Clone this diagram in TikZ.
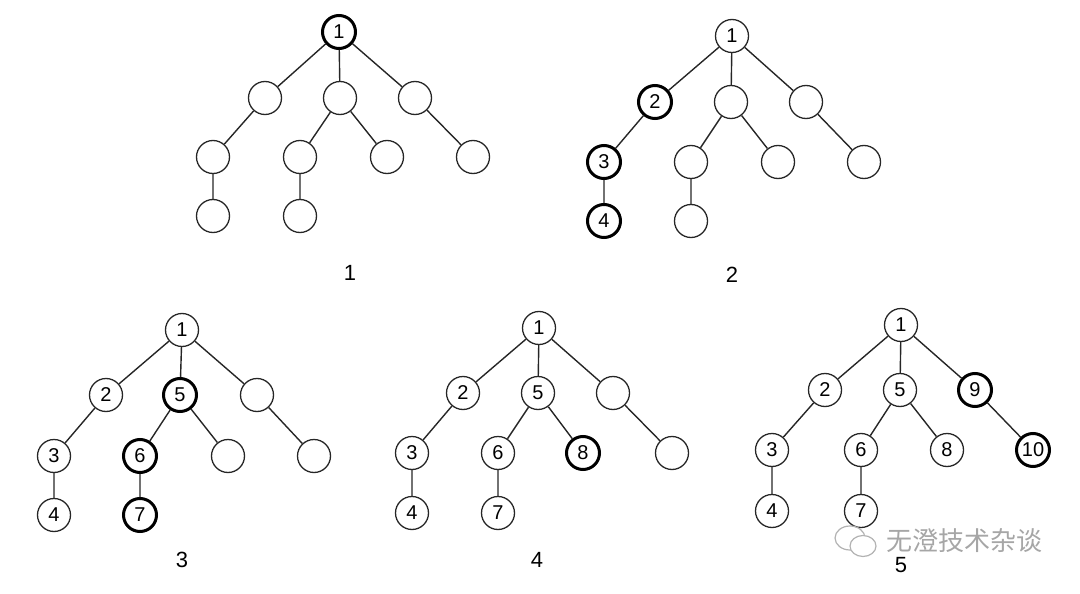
\documentclass[tikz,border=0pt]{standalone}
\usepackage{fontspec}
\setmainfont{Liberation Sans}
\newfontfamily\cjk{Noto Sans CJK SC}
\begin{document}
\begin{tikzpicture}[x=1pt,y=-1pt,
  nd/.style={circle, draw=black!85, line width=1.3pt, minimum size=33pt, inner sep=0pt, font=\fontsize{20}{20}\selectfont},
  hl/.style={nd, draw=black, line width=3pt},
  edge/.style={draw=black!85, line width=1.4pt},
  lbl/.style={inner sep=0pt, font=\fontsize{22}{22}\selectfont},
  wm/.style={inner sep=0pt, text=black!35, font=\cjk\fontsize{26}{26}\selectfont}]
\useasboundingbox (0,0) rectangle (1080,594);
% Tree 1
\node[hl] (a1) at (339,32) {1};
\node[nd] (a2) at (265,98) {};
\node[nd] (a3) at (340,98) {};
\node[nd] (a4) at (415,98) {};
\node[nd] (a5) at (213,157) {};
\node[nd] (a6) at (300,157) {};
\node[nd] (a7) at (387,157) {};
\node[nd] (a8) at (473,157) {};
\node[nd] (a9) at (213,216) {};
\node[nd] (a10) at (300,216) {};
\node[lbl] (la) at (350,273) {1};
\draw[edge] (a1)--(a2) (a1)--(a3) (a1)--(a4) (a2)--(a5) (a3)--(a6) (a3)--(a7) (a4)--(a8) (a5)--(a9) (a6)--(a10);
% Tree 2
\node[nd] (b1) at (732,36) {1};
\node[hl] (b2) at (655,102) {2};
\node[nd] (b3) at (731,102) {};
\node[nd] (b4) at (806,102) {};
\node[hl] (b5) at (604,162) {3};
\node[nd] (b6) at (691,162) {};
\node[nd] (b7) at (778,162) {};
\node[nd] (b8) at (864,162) {};
\node[hl] (b9) at (604,221) {4};
\node[nd] (b10) at (691,221) {};
\node[lbl] (lb) at (732,275) {2};
\draw[edge] (b1)--(b2) (b1)--(b3) (b1)--(b4) (b2)--(b5) (b3)--(b6) (b3)--(b7) (b4)--(b8) (b5)--(b9) (b6)--(b10);
% Tree 3
\node[nd] (c1) at (182,330) {1};
\node[nd] (c2) at (106,395) {2};
\node[hl] (c3) at (180,395) {5};
\node[nd] (c4) at (257,395) {};
\node[nd] (c5) at (54,456) {3};
\node[hl] (c6) at (140,456) {6};
\node[nd] (c7) at (228,456) {};
\node[nd] (c8) at (314,456) {};
\node[nd] (c9) at (54,515) {4};
\node[hl] (c10) at (140,515) {7};
\node[lbl] (lc) at (182,560) {3};
\draw[edge] (c1)--(c2) (c1)--(c3) (c1)--(c4) (c2)--(c5) (c3)--(c6) (c3)--(c7) (c4)--(c8) (c5)--(c9) (c6)--(c10);
% Tree 4
\node[nd] (d1) at (539,328) {1};
\node[nd] (d2) at (463,393) {2};
\node[nd] (d3) at (538,393) {5};
\node[nd] (d4) at (613,393) {};
\node[nd] (d5) at (412,453) {3};
\node[nd] (d6) at (498,453) {6};
\node[hl] (d7) at (583,453) {8};
\node[nd] (d8) at (672,453) {};
\node[nd] (d9) at (412,513) {4};
\node[nd] (d10) at (498,513) {7};
\node[lbl] (ld) at (537,560) {4};
\draw[edge] (d1)--(d2) (d1)--(d3) (d1)--(d4) (d2)--(d5) (d3)--(d6) (d3)--(d7) (d4)--(d8) (d5)--(d9) (d6)--(d10);
% Tree 5
\node[nd] (e1) at (901,325) {1};
\node[nd] (e2) at (825,390) {2};
\node[nd] (e3) at (900,390) {5};
\node[hl] (e4) at (975,390) {9};
\node[nd] (e5) at (772,450) {3};
\node[nd] (e6) at (861,450) {6};
\node[nd] (e7) at (947,450) {8};
\node[hl] (e8) at (1033,450) {10};
\node[nd] (e9) at (772,511) {4};
\node[nd] (e10) at (861,511) {7};
\node[lbl] (le) at (901,565) {5};
\draw[edge] (e1)--(e2) (e1)--(e3) (e1)--(e4) (e2)--(e5) (e3)--(e6) (e3)--(e7) (e4)--(e8) (e5)--(e9) (e6)--(e10);
% Watermark
\node[wm] (wmt) at (964,541) {无澄技术杂谈};
\draw[black!30, line width=1.2pt] (850,538) ellipse (15pt and 12pt);
\draw[black!30, line width=1.2pt, fill=white] (863,546) ellipse (13pt and 10.5pt);
\end{tikzpicture}
\end{document}
